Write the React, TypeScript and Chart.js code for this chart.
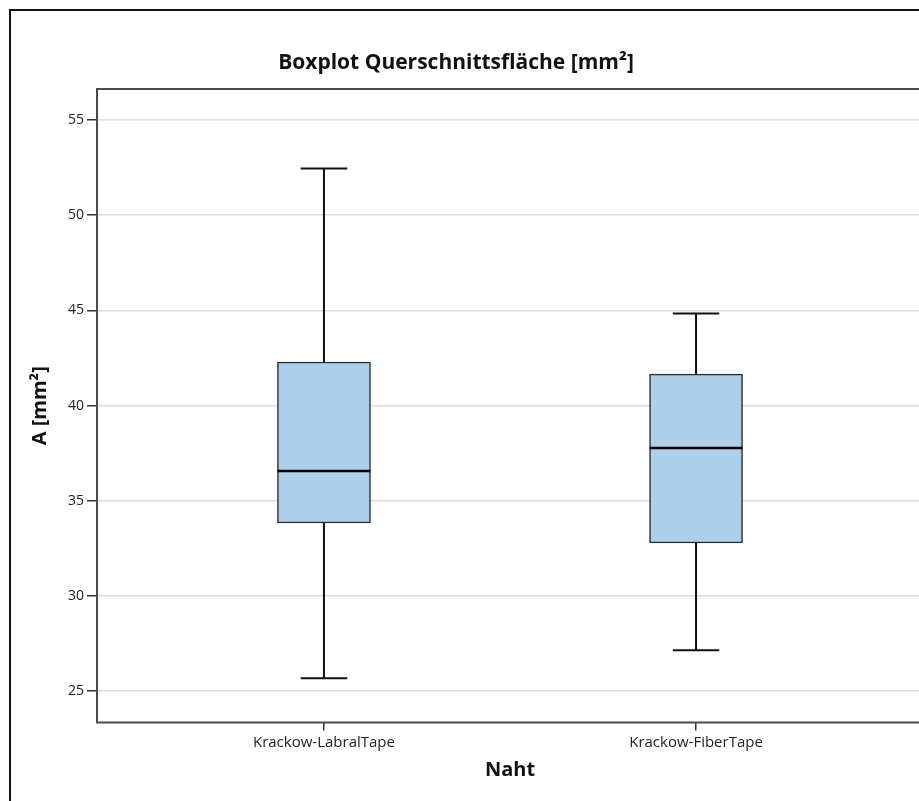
import React, { useEffect, useRef } from "react";
import { Chart, registerables } from "chart.js";
Chart.register(...registerables);

const categories = ["Krackow-LabralTape", "Krackow-FiberTape"];
const positions = [1, 2];
const whiskerLow = [25.68, 27.15];
const q1 = [33.83, 32.78];
const median = [36.56, 37.77];
const q3 = [42.29, 41.65];
const whiskerHigh = [52.46, 44.84];
const yTicks = [25, 30, 35, 40, 45, 50, 55];

const CHART_TITLE = "Boxplot Querschnittsfläche [mm²]";
const X_TITLE = "Naht";
const Y_TITLE = "A [mm²]";

const FONT = "'Open Sans', 'DejaVu Sans', sans-serif";
const BOX_FILL = "rgb(174,207,236)";

const CW = 930;
const CH = 793;

const framePlugin = {
  id: "frameDecor",
  beforeDraw(chart: any) {
    const { ctx } = chart;
    ctx.save();
    ctx.fillStyle = "#fff";
    ctx.fillRect(0, 0, chart.width, chart.height);
    ctx.strokeStyle = "#111";
    ctx.lineWidth = 2;
    ctx.beginPath();
    ctx.moveTo(2, chart.height + 5);
    ctx.lineTo(2, 2);
    ctx.lineTo(chart.width + 5, 2);
    ctx.stroke();
    ctx.fillStyle = "#111";
    ctx.font = `bold 21px ${FONT}`;
    ctx.textAlign = "center";
    ctx.textBaseline = "middle";
    ctx.fillText(CHART_TITLE, 448, 55);
    ctx.restore();
  },
  afterDraw(chart: any) {
    const { ctx, chartArea } = chart;
    ctx.save();
    ctx.strokeStyle = "#4a4a4a";
    ctx.lineWidth = 2;
    ctx.strokeRect(chartArea.left, chartArea.top, chartArea.right - chartArea.left, chartArea.bottom - chartArea.top);
    ctx.restore();
  },
};

const boxPlugin = {
  id: "boxWhiskers",
  afterDatasetsDraw(chart: any) {
    const { ctx } = chart;
    const x = chart.scales.x;
    const y = chart.scales.y;
    const meta = chart.getDatasetMeta(0);
    ctx.save();
    positions.forEach((p, i) => {
      const bar = meta.data[i];
      const cx = x.getPixelForValue(p);
      const half = bar.width / 2;
      const cap = half / 2;
      ctx.strokeStyle = "#111";
      ctx.lineWidth = 2;
      ctx.beginPath();
      ctx.moveTo(cx, y.getPixelForValue(q3[i]));
      ctx.lineTo(cx, y.getPixelForValue(whiskerHigh[i]));
      ctx.moveTo(cx, y.getPixelForValue(q1[i]));
      ctx.lineTo(cx, y.getPixelForValue(whiskerLow[i]));
      ctx.moveTo(cx - cap, y.getPixelForValue(whiskerHigh[i]));
      ctx.lineTo(cx + cap, y.getPixelForValue(whiskerHigh[i]));
      ctx.moveTo(cx - cap, y.getPixelForValue(whiskerLow[i]));
      ctx.lineTo(cx + cap, y.getPixelForValue(whiskerLow[i]));
      ctx.stroke();
      ctx.lineWidth = 2.5;
      ctx.strokeStyle = "#000";
      ctx.beginPath();
      ctx.moveTo(cx - half, y.getPixelForValue(median[i]));
      ctx.lineTo(cx + half, y.getPixelForValue(median[i]));
      ctx.stroke();
    });
    ctx.restore();
  },
};

export default function App() {
  const ref = useRef<HTMLCanvasElement | null>(null);
  useEffect(() => {
    if (!ref.current) return;
    const chart = new Chart(ref.current, {
      type: "bar",
      data: {
        datasets: [
          {
            data: positions.map((p, i) => ({ x: p, y: [q1[i], q3[i]] })) as any,
            backgroundColor: BOX_FILL,
            borderColor: "#2a2a2a",
            borderWidth: 1.5,
            borderSkipped: false,
            barThickness: 93,
            grouped: false,
          } as any,
        ],
      },
      options: {
        animation: false,
        responsive: false,
        layout: { padding: { top: 81, right: 15, bottom: 0, left: 0 } },
        plugins: { legend: { display: false }, tooltip: { enabled: false }, title: { display: false } },
        scales: {
          x: {
            type: "linear",
            min: 0.39,
            max: 2.61,
            offset: false,
            afterBuildTicks: (s: any) => {
              s.ticks = positions.map((v) => ({ value: v }));
            },
            afterFit: (s: any) => {
              s.height = 78.5;
            },
            ticks: {
              callback: (_v: any, i: number) => categories[i],
              autoSkip: false,
              maxRotation: 0,
              font: { family: FONT, size: 15 },
              color: "#222",
              padding: 3,
            },
            grid: {
              display: true,
              offset: false,
              drawOnChartArea: false,
              tickColor: "#333",
              tickLength: 8,
              lineWidth: 1.5,
            },
            border: { display: false },
            title: {
              display: true,
              text: X_TITLE,
              font: { family: FONT, size: 20, weight: "bold" },
              color: "#111",
              padding: { top: 0, bottom: 19 },
            },
          } as any,
          y: {
            type: "linear",
            min: 23.35,
            max: 56.63,
            afterBuildTicks: (s: any) => {
              s.ticks = yTicks.map((v) => ({ value: v }));
            },
            afterFit: (s: any) => {
              s.width = 89;
            },
            ticks: { font: { family: FONT, size: 14 }, color: "#222", padding: 3 },
            grid: { color: "#dedede", lineWidth: 1.5, tickColor: "#333", tickLength: 10, drawTicks: true },
            border: { display: false },
            title: {
              display: true,
              text: Y_TITLE,
              font: { family: FONT, size: 20, weight: "bold" },
              color: "#111",
              padding: { top: 20, bottom: 0 },
            },
          } as any,
        },
      },
      plugins: [framePlugin, boxPlugin],
    });
    return () => chart.destroy();
  }, []);
  return (
    <div style={{ position: "fixed", left: 8, top: 8, width: 911, height: 793, overflow: "hidden" }}>
      <canvas ref={ref} width={CW} height={CH} style={{ width: CW, height: CH, display: "block" }} />
    </div>
  );
}
